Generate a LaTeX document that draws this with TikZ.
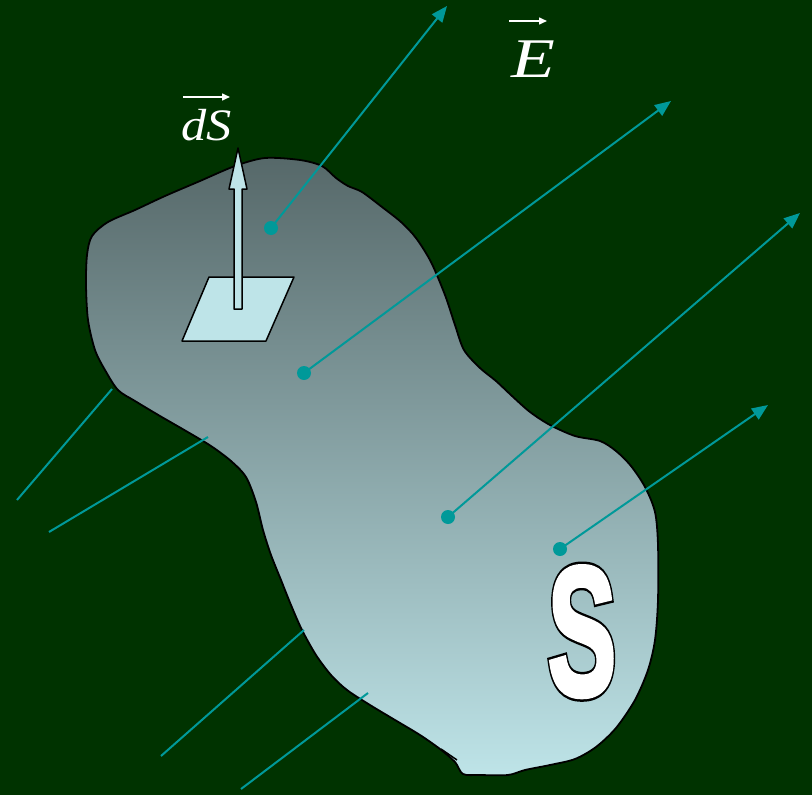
\documentclass[tikz,border=0pt]{standalone}
\usepackage{fontspec}
\setmainfont{Liberation Serif}
\newfontfamily\bigsfont{Liberation Sans}
\usetikzlibrary{arrows.meta}
\definecolor{bg}{RGB}{0,51,0}
\definecolor{fieldc}{RGB}{0,153,153}
\definecolor{topc}{RGB}{86,104,105}
\definecolor{botc}{RGB}{190,228,232}
\definecolor{paper}{RGB}{190,228,232}
\tikzset{
  field/.style={fieldc, line width=2pt},
  fieldarrow/.style={field, -{Triangle[length=16pt,width=13pt]}},
  fielddot/.style={circle, fill=fieldc, inner sep=0pt, minimum size=14pt},
  outline/.style={draw=black, line width=1.8pt, line join=round},
  labelarrow/.style={white, line width=1.5pt, -{Triangle[length=8pt,width=7pt]}},
  lbl/.style={text=white, inner sep=0pt, anchor=base west}
}
\newcommand\glyphS[2]{\scalebox{0.56}[1]{\bigsfont\bfseries\fontsize{184}{184}\selectfont\special{pdf:literal direct #1 #2 w 2 Tr}S\special{pdf:literal direct 0 Tr}}}
\begin{document}
\begin{tikzpicture}[x=1pt,y=-1pt]
\fill[bg] (0,0) rectangle (812,795);
\useasboundingbox (0,0) rectangle (812,795);

% surface S
\shade[top color=topc, bottom color=botc, outline]
  plot[smooth cycle, tension=0.5] coordinates {
  (87,255) (92,236) (108,222) (135,210) (165,196) (200,181) (235,166) (265,158) (300,160)
  (322,166) (336,178) (348,186) (362,192) (382,207) (401,222) (416,238)
  (431,262) (445,295) (455,325) (464,350) (480,368) (496,381) (512,396)
  (530,412) (550,425) (575,436) (600,441) (616,451) (631,466) (645,487)
  (655,512) (658,545) (658,600) (655,640) (648,670) (635,700) (616,728)
  (596,747) (575,759) (550,765) (525,770) (508,775) (480,775) (463,774)
  (455,762) (440,749) (420,735) (395,720) (370,705) (347,690) (331,675)
  (316,655) (302,630) (291,605) (281,580) (271,555) (263,530) (256,502)
  (246,477) (231,461) (211,446) (186,431) (160,416) (135,401) (118,390)
  (105,370) (95,350) (88,320) (86,285)};
\draw[black, line width=1.5pt] (441,749) -- (457,760);

% incoming field lines (lower left)
\coordinate (a1) at (17,500);  \coordinate (b1) at (112,389);
\coordinate (a2) at (49,532);  \coordinate (b2) at (208,437);
\coordinate (a3) at (161,756); \coordinate (b3) at (304,630);
\coordinate (a4) at (241,789); \coordinate (b4) at (368,693);
\draw[field] (a1) -- (b1);
\draw[field] (a2) -- (b2);
\draw[field] (a3) -- (b3);
\draw[field] (a4) -- (b4);

% outgoing field lines
\coordinate (p1) at (271,228);
\coordinate (p2) at (304,373);
\coordinate (p3) at (448,517);
\coordinate (p4) at (560,549);
\coordinate (t1) at (447,6);
\coordinate (t2) at (671,101);
\coordinate (t3) at (800,213);
\coordinate (t4) at (768,405);
\draw[fieldarrow] (p1) -- (t1);
\draw[fieldarrow] (p2) -- (t2);
\draw[fieldarrow] (p3) -- (t3);
\draw[fieldarrow] (p4) -- (t4);
\node[fielddot] (d1) at (p1) {};
\node[fielddot] (d2) at (p2) {};
\node[fielddot] (d3) at (p3) {};
\node[fielddot] (d4) at (p4) {};

% surface element and its normal
\filldraw[fill=paper, outline, line width=1.5pt] (182,341) -- (266,341) -- (294,277) -- (209,277) -- cycle;
\filldraw[fill=paper, outline, line width=1.5pt]
  (234,309) -- (234,189) -- (229,189) -- (238,148) -- (247,189) -- (242,189) -- (242,309) -- cycle;

% labels
\node[lbl, font=\fontsize{45}{45}\selectfont\itshape] (lblS) at (181,140) {\scalebox{1.12}[1]{dS}};
\draw[labelarrow] (183,97) -- (230,97);
\node[lbl, font=\fontsize{56}{56}\selectfont\itshape] (lblE) at (511,77) {\scalebox{1.28}[1]{E}};
\draw[labelarrow] (509,21) -- (547,21);

% big letter S: black border, then white body
\node[text=black, inner sep=0pt, anchor=base] (bigSb) at (582,695) {\glyphS{0 0 0 RG}{10}};
\node[text=white, inner sep=0pt, anchor=base] (bigS) at (582,695) {\glyphS{1 1 1 RG}{5}};
\end{tikzpicture}
\end{document}
